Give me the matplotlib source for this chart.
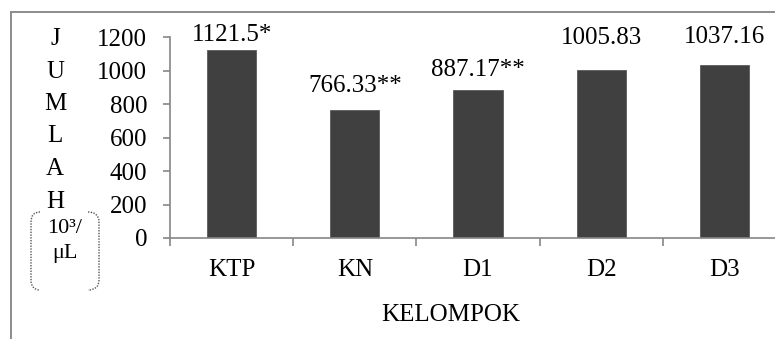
import matplotlib
matplotlib.use("Agg")
import matplotlib.pyplot as plt
from matplotlib.path import Path
from matplotlib.patches import PathPatch
from matplotlib.lines import Line2D

plt.rcParams['font.family'] = ['Liberation Serif', 'DejaVu Serif']

# jumlah per kelompok (10^3/uL)
kelompok = ["KTP", "KN", "D1", "D2", "D3"]
jumlah = [1121.5, 766.33, 887.17, 1005.83, 1037.16]
tanda = ["*", "**", "**", "", ""]
yticks = [0, 200, 400, 600, 800, 1000, 1200]

# jarak label nilai di atas batang (pixel)
label_gap = [9, 18, 14, 26, 22]

W, H = 775, 339
GRAY = "#868686"
FS = 18


def fx(x):
    return x / W


def fy(y):
    return 1 - y / H


fig = plt.figure(figsize=(W / 100, H / 100), dpi=100)
ax = fig.add_axes([fx(170), fy(238), fx(786) - fx(170), fy(37.3) - fy(238)])

x = range(len(kelompok))
ax.bar(x, jumlah, width=0.4, color="#404040", edgecolor="#5a5a5a", linewidth=0.6, zorder=2)

for i, (v, t, g) in enumerate(zip(jumlah, tanda, label_gap)):
    ax.annotate(f"{v:g}{t}", xy=(i, v), xytext=(0, g * 0.72), textcoords="offset points",
                ha="center", va="baseline", fontsize=FS, annotation_clip=False)

ax.set_xlim(-0.5, len(kelompok) - 0.5)
ax.set_ylim(0, 1200)
ax.set_yticks(yticks)
ax.set_xticks(list(x))
ax.set_xticklabels(kelompok)
ax.set_xticks([i - 0.5 for i in range(len(kelompok) + 1)], minor=True)

for s in ["top", "right"]:
    ax.spines[s].set_visible(False)
for s in ["left", "bottom"]:
    ax.spines[s].set_color(GRAY)
    ax.spines[s].set_linewidth(1.2)

ax.tick_params(axis="y", direction="out", length=5, width=1.2, color=GRAY, pad=11.5, labelsize=FS)
ax.tick_params(axis="x", which="major", length=0, pad=15, labelsize=FS)
ax.tick_params(axis="x", which="minor", direction="out", length=5.8, width=1.2, color=GRAY)

fig.text(fx(451), fy(315), "KELOMPOK", ha="center", va="center", fontsize=FS)

# label sumbu y, huruf disusun ke bawah
for i, ch in enumerate("JUMLAH"):
    fig.text(fx(55), fy(45 + 32.5 * i), ch, ha="center", va="baseline", fontsize=FS)

fig.text(fx(65), fy(233), "10³/", ha="center", va="baseline", fontsize=16)
fig.text(fx(65), fy(258), "μL", ha="center", va="baseline", fontsize=16)


def bracket(x0, x1):
    pts = [(x1, 212), (x0, 212), (x0, 222), (x0, 280), (x0, 290), (x1, 290)]
    codes = [Path.MOVETO, Path.CURVE3, Path.CURVE3, Path.LINETO, Path.CURVE3, Path.CURVE3]
    path = Path([(fx(a), fy(b)) for a, b in pts], codes)
    fig.add_artist(PathPatch(path, transform=fig.transFigure, fill=False,
                             edgecolor="#555555", linewidth=1.0, linestyle=(0, (1, 1))))


bracket(31, 40)
bracket(99, 88)

# bingkai luar
fig.add_artist(Line2D([fx(11), fx(11)], [fy(12), 0], transform=fig.transFigure, color="#8c8c8c", linewidth=1.4))
fig.add_artist(Line2D([fx(11), 1], [fy(12), fy(12)], transform=fig.transFigure, color="#8c8c8c", linewidth=1.4))

fig.savefig("out.png", dpi=100)
